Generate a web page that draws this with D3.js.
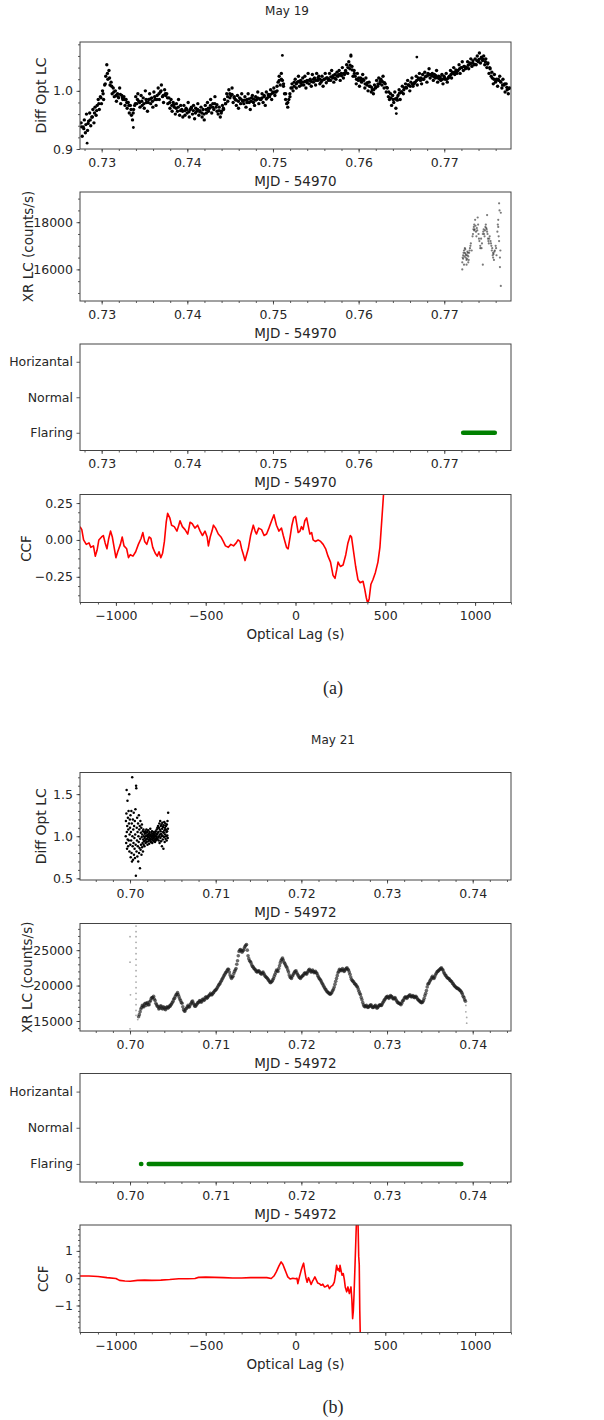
<!DOCTYPE html>
<html><head><meta charset="utf-8">
<script src="https://cdn.jsdelivr.net/npm/d3@7"></script>
<style>body{margin:0;background:#fff}svg{display:block}</style>
</head><body><svg id="c" width="604" height="1420"></svg>
<script>
// ---------------- DATA ----------------
const stateCats = ["Flaring","Normal","Horizantal"];
const mjdTicks19 = [0.73,0.74,0.75,0.76,0.77];
const mjdTicks21 = [0.70,0.71,0.72,0.73,0.74];
const lagTicks = [-1000,-500,0,500,1000];
const optTicks19 = [0.9,1.0];
const xrTicks19 = [16000,18000];
const ccfTicks19 = [-0.25,0,0.25];
const optTicks21 = [0.5,1.0,1.5];
const xrTicks21 = [15000,20000,25000];
const ccfTicks21 = [-1,0,1];

// May 19 differential optical light curve, set A (uniform sampling 0.7276 -> 0.7776)
const opt19Start = 0.7276, opt19End = 0.7776;
const opt19 = [
0.945,0.922,0.938,0.950,0.928,0.960,0.932,0.948, 0.962,0.940,0.955,0.968,0.945,0.972,0.958,0.975,
0.985,0.968,0.990,0.978,1.000,0.985,1.010,1.025, 1.045,1.020,1.035,1.010,1.015,0.995,1.005,0.990,
1.000,0.982,0.995,0.988,1.005,0.978,0.992,0.985, 0.990,0.975,0.985,0.970,0.980,0.962,0.975,0.958,
0.950,0.968,0.975,0.990,0.978,0.995,0.982,0.972, 0.992,0.975,0.988,0.970,1.000,0.980,0.965,0.985,
0.995,0.978,0.988,0.972,0.998,0.985,0.975,0.992, 1.005,0.985,0.998,1.010,0.990,0.980,1.002,0.992,
0.995,0.978,0.988,0.970,0.985,0.965,0.980,0.972, 0.960,0.978,0.965,0.985,0.958,0.975,0.968,0.955,
0.975,0.958,0.970,0.962,0.980,0.955,0.968,0.972, 0.960,0.975,0.952,0.970,0.965,0.978,0.958,0.966,
0.972,0.955,0.968,0.950,0.975,0.962,0.980,0.965, 0.970,0.985,0.962,0.978,0.968,0.990,0.972,0.965,
0.960,0.972,0.955,0.965,0.975,0.968,0.985,0.978, 0.995,0.982,1.002,0.988,0.992,1.005,0.980,0.990,
0.985,0.975,0.992,0.970,0.988,0.978,0.995,0.982, 0.978,0.990,0.972,0.985,0.995,0.980,0.968,0.988,
0.992,0.980,0.975,0.990,0.985,0.998,0.978,0.986, 0.985,0.995,0.980,0.992,0.975,0.998,0.988,0.994,
0.990,1.002,0.985,0.998,1.005,0.992,0.998,1.008, 1.015,1.025,1.010,1.030,1.018,1.008,0.995,0.985,
0.978,0.972,0.985,0.995,1.005,1.012,1.000,1.015, 1.020,1.005,1.015,1.025,1.008,1.018,1.010,1.022,
1.010,1.025,1.005,1.018,1.030,1.012,1.020,1.008, 1.028,1.015,1.022,1.010,1.030,1.018,1.025,1.012,
1.015,1.025,1.008,1.020,1.030,1.014,1.022,1.018, 1.030,1.018,1.035,1.022,1.015,1.028,1.020,1.032,
1.025,1.035,1.018,1.030,1.040,1.022,1.028,1.035, 1.045,1.030,1.050,1.038,1.060,1.042,1.025,1.035,
1.025,1.012,1.030,1.018,1.008,1.022,1.015,1.028, 1.018,1.005,1.022,1.010,1.000,1.015,1.008,0.998,
1.002,0.995,1.010,1.005,1.018,1.008,1.022,1.012, 1.020,1.010,1.025,1.005,1.012,0.998,1.005,0.990,
0.985,0.995,0.975,0.992,0.980,0.998,0.970,0.988, 0.992,1.002,0.985,0.998,1.008,0.995,1.005,1.012,
1.005,1.018,1.010,1.000,1.015,1.022,1.008,1.012, 1.015,1.025,1.010,1.022,1.030,1.018,1.012,1.028,
1.020,1.032,1.025,1.015,1.030,1.038,1.022,1.028, 1.030,1.018,1.028,1.022,1.035,1.015,1.025,1.020,
1.018,1.028,1.012,1.025,1.020,1.030,1.015,1.022, 1.025,1.035,1.022,1.032,1.040,1.028,1.036,1.030,
1.035,1.045,1.030,1.040,1.050,1.035,1.042,1.038, 1.040,1.050,1.038,1.048,1.055,1.042,1.052,1.045,
1.055,1.045,1.060,1.050,1.065,1.048,1.058,1.052, 1.060,1.045,1.055,1.040,1.048,1.030,1.038,1.025,
1.022,1.012,1.028,1.015,1.020,1.008,1.018,1.025, 1.015,1.005,1.020,1.010,0.998,1.012,1.002,0.995,
1.005];
// set B (core readings, uniform sampling 0.72766 -> 0.77756)
const opt19bStart = 0.72766, opt19bEnd = 0.77756;
const opt19b = [
0.938,0.935,0.942,0.944, 0.950,0.955,0.962,0.966, 0.978,0.988,0.995,1.012, 1.030,1.022,1.008,0.998,
0.992,0.990,0.994,0.988, 0.985,0.980,0.975,0.968, 0.962,0.978,0.985,0.980, 0.982,0.978,0.985,0.980,
0.986,0.982,0.990,0.985, 0.995,1.000,0.992,0.995, 0.988,0.980,0.975,0.976, 0.970,0.972,0.966,0.965,
0.966,0.968,0.964,0.970, 0.966,0.962,0.968,0.964, 0.962,0.960,0.968,0.970, 0.975,0.972,0.978,0.976,
0.966,0.962,0.970,0.978, 0.990,0.995,0.994,0.988, 0.984,0.982,0.986,0.984, 0.984,0.980,0.986,0.982,
0.986,0.984,0.988,0.986, 0.988,0.990,0.986,0.992, 0.994,0.996,0.998,1.000, 1.018,1.020,1.012,0.995,
0.980,0.990,1.005,1.008, 1.012,1.016,1.014,1.015, 1.016,1.014,1.018,1.016, 1.020,1.018,1.022,1.020,
1.018,1.020,1.022,1.020, 1.024,1.026,1.022,1.026, 1.028,1.026,1.030,1.032, 1.040,1.044,1.036,1.030,
1.020,1.022,1.018,1.020, 1.012,1.014,1.008,1.006, 1.002,1.006,1.012,1.016, 1.016,1.014,1.006,0.998,
0.988,0.985,0.986,0.984, 0.996,0.998,1.002,1.006, 1.010,1.008,1.012,1.014, 1.018,1.020,1.022,1.020,
1.024,1.026,1.028,1.026, 1.024,1.026,1.022,1.024, 1.020,1.022,1.020,1.024, 1.028,1.030,1.032,1.034,
1.038,1.040,1.042,1.040, 1.044,1.046,1.048,1.046, 1.052,1.054,1.056,1.054, 1.050,1.046,1.040,1.032,
1.020,1.018,1.020,1.016, 1.010,1.012,1.006,1.004];
const opt19OutT = [0.7337,0.7511,0.7644,0.7591,0.7668,0.7283];
const opt19OutV = [0.937,1.061,0.961,1.062,1.058,0.910];

// May 19 X-ray light curve
const xr19T = [0.7721,0.7721,0.7722,0.7722,0.7723,0.7723,0.7724,0.7724,0.7725,0.7725,
0.7726,0.7726,0.7727,0.7727,0.7728,0.7728,0.7729,0.7730,0.7731,0.7732,
0.7733,0.7734,0.7735,0.7735,0.7736,0.7737,0.7738,0.7739,0.7740,0.7741,
0.7742,0.7742,0.7743,0.7744,0.7745,0.7745,0.7746,0.7747,0.7748,0.7749,
0.7750,0.7750,0.7751,0.7752,0.7753,0.7754,0.7755,0.7756,0.7757,0.7757,
0.7758,0.7759,0.7760,0.7761,0.7762,0.7763,0.7763,0.7764,0.7764,0.7765,
0.7765,0.7766,0.7766,
0.77215,0.77225,0.77235,0.77245,0.77255,0.77265,0.77275,0.77285,0.77295,0.77305,
0.77335,0.77345,0.77355,0.77365,0.77375,0.77385,0.77395,0.77405,
0.77435,0.77455,0.77465,0.77475,0.77485,0.77495,0.77505,0.77515,0.77525,
0.77545,0.77555,0.77565,0.77575,0.77585,
0.77605,0.77625,0.77635,0.77645,0.77655];
const xr19V = [16300,16000,16600,16450,16800,16200,16700,16900,16500,16650,
16400,16200,16600,16750,16550,16300,16700,16900,17100,16800,
17400,17700,17650,17900,18100,17600,17750,18200,17500,17200,
17000,16900,17300,17100,16200,17500,17700,17400,17800,17750,
18300,17600,17300,17100,17400,17200,17000,16900,16500,16700,
16400,16800,17000,16600,17600,18100,17800,18800,17200,16500,
16100,18400,15300,
16500,16700,16550,16850,16600,16450,16700,16400,16800,17000,
17500,17800,17700,17850,17400,17650,17900,17300,
16900,17600,17500,17650,17900,17700,17500,17200,17300,
17100,16800,16600,16650,16750,
16900,17900,17400,18500,16800];

// spectral state segments
const state19Start = [0.7722], state19End = [0.7759], state19Cat = ["Flaring"];
const state21Start = [0.70128,0.70218], state21End = [0.70132,0.73867], state21Cat = ["Flaring","Flaring"];

// May 19 CCF
const lag19 = [-1200,-1190,-1180,-1165,-1150,-1140,-1125,-1115,-1105,-1095,
-1080,-1070,-1060,-1050,-1040,-1030,-1020,-1010,-1000,-990,
-975,-965,-955,-940,-930,-920,-905,-890,-875,-860,
-850,-840,-828,-815,-805,-795,-781,-770,-760,-750,
-740,-730,-720,-712,-700,-690,-675,-660,-650,-643,
-630,-615,-600,-587,-575,-560,-545,-531,-518,-504,
-492,-485,-475,-465,-457,-445,-430,-415,-402,-390,
-374,-360,-345,-330,-320,-309,-300,-290,-281,-270,
-263,-250,-235,-225,-217,-205,-189,-175,-161,-148,
-133,-120,-106,-92,-78,-68,-59,-50,-41,-30,
-20,-10,0,15,25,33,42,52,62,70,
80,90,98,110,126,140,154,168,181,195,
209,220,230,237,250,265,280,292,305,312,
320,335,348,360,376,385,394,402,410,420,
431,445,459,470,478,487,495,505];
const ccf19 = [0.09,0.07,0.0,-0.03,-0.02,-0.05,-0.04,-0.11,-0.07,0.0,
0.02,0.03,-0.02,-0.06,0.01,0.06,0.02,-0.05,-0.12,-0.08,
-0.03,0.02,-0.04,-0.06,-0.12,-0.10,-0.11,-0.08,-0.03,0.01,
0.05,-0.01,-0.03,0.02,0.01,-0.05,-0.09,-0.11,-0.08,-0.12,
-0.09,-0.01,0.12,0.18,0.15,0.10,0.09,0.06,0.10,0.13,
0.09,0.07,0.04,0.12,0.11,0.08,0.10,0.06,0.03,0.06,
0.02,-0.04,0.02,0.06,0.10,0.08,0.04,0.02,-0.01,-0.04,
-0.05,-0.03,-0.04,-0.02,0.0,-0.01,-0.06,-0.10,-0.14,-0.09,
-0.06,0.03,0.10,0.06,0.04,0.08,0.07,0.03,0.04,0.08,
0.13,0.17,0.10,0.06,0.08,0.03,-0.01,-0.05,-0.06,0.02,
0.10,0.15,0.16,0.05,0.06,0.09,0.07,0.13,0.15,0.10,
0.04,0.05,0.0,-0.01,0.0,-0.01,-0.03,-0.06,-0.11,-0.15,
-0.24,-0.26,-0.20,-0.15,-0.18,-0.17,-0.10,-0.02,0.03,0.02,
-0.05,-0.18,-0.27,-0.29,-0.28,-0.33,-0.39,-0.43,-0.40,-0.30,
-0.27,-0.22,-0.15,-0.05,0.09,0.25,0.40,0.60];

// May 21 differential optical light curve (uniform sampling)
const opt21Start = 0.6995, opt21End = 0.70445;
const opt21 = [
1.00,1.18,0.92,1.27,1.55,1.05,0.85,1.12,1.42,0.96,1.22,0.88,1.08,1.30,0.95,1.15,1.50,0.82,1.02,1.20,
1.10,0.90,1.25,0.75,1.05,0.95,1.30,0.80,1.15,0.70,1.70,1.00,0.88,1.20,0.72,1.08,0.92,1.28,0.78,1.12,
0.98,0.85,1.18,0.74,1.02,1.32,0.90,0.53,1.60,1.57,0.82,1.10,0.95,1.22,0.76,1.05,0.88,1.15,0.70,1.00,
0.93,1.25,0.80,1.08,0.86,1.12,0.62,0.97,1.18,0.84,1.04,0.90,1.10,0.78,0.99,1.14,0.87,1.02,0.92,1.06,
0.82,0.96,1.08,0.90,1.00,0.94,1.05,0.88,
0.98,1.03,0.95,1.06,0.92,1.00,1.04,0.96,1.08,0.93,1.01,0.97,1.05,0.90,1.02,0.99,1.07,0.94,1.00,0.96,
1.03,0.91,1.05,0.98,1.01,0.95,1.09,0.97,1.02,0.93,1.00,1.04,0.96,0.99,1.06,0.92,1.01,0.97,1.03,0.95,
1.00,0.98,1.05,0.94,1.02,0.99,0.96,1.04,0.93,1.01,0.97,1.06,0.95,1.00,1.03,0.98,1.08,0.96,1.02,1.10,
0.97,1.04,1.12,0.99,
1.05,0.95,1.10,1.00,1.15,0.92,1.08,1.02,1.18,0.98,1.06,1.12,0.94,1.03,1.14,1.00,0.88,1.09,1.16,1.01,
0.96,1.11,1.05,0.85,1.13,1.04,0.99,1.17,1.07,0.93,1.10,1.02,1.15,0.97,1.08,1.12,1.00,1.05,0.95,1.14,
1.06,1.01,1.18,0.98,1.09,1.28];

// May 21 X-ray light curve, set A (uniform sampling 0.7010 -> 0.73915)
const xr21Start = 0.7010, xr21End = 0.73915;
const xr21 = [
15600,16300,16900,17100,17400,17200,17600,17300,17900,18300,
18500,17900,17300,17000,16800,17100,16700,16900,16600,17000,
16900,17100,17400,17800,18200,18700,19000,18400,17900,17500,
16600,16400,16800,17200,17000,17500,17800,17300,17100,17400,
17600,17900,17700,18100,18000,18400,18300,18600,18900,18700,
19000,19300,19500,19900,20200,20600,21000,21400,21800,22100,
22300,21500,21000,21300,22000,22400,23500,24800,25100,24700,
25000,25500,25800,24200,23500,23200,22700,22400,22200,21900,
22100,21800,21600,21900,21500,21200,21000,20700,20400,20600,
21000,21600,22200,22000,22800,23500,23900,23300,22900,22500,
21900,21200,21000,21500,21900,22100,21600,21200,21000,21300,
21500,21800,21600,22000,22300,21900,22200,21800,22000,21700,
21200,20900,20500,20100,19700,19400,19100,18900,18800,19100,
19500,20200,21000,21800,22300,22100,22400,22000,22300,22500,
22200,21600,20900,20600,20300,20100,19800,19200,18700,18000,
17300,17000,17200,16900,17100,17300,16900,17000,17200,16800,
17100,17300,17200,17600,18000,18300,18500,18200,18600,18400,
18100,18300,17900,17600,17500,17300,17800,18100,18400,18200,
18500,18700,18400,18600,18300,18500,18100,17900,17700,17600,
17900,18600,19300,20200,20500,20900,21300,21000,21500,21900,
22100,22300,22500,22200,21700,21400,21100,21000,20700,20500,
20200,19900,19700,19600,19400,19200,18800,18300,17800];
// set B (uniform sampling 0.7010875 -> 0.7390625)
const xr21bStart = 0.7010875, xr21bEnd = 0.7390625;
const xr21b = [
15900,16700,17200,17000,17500,17500,17300,17700,18200,18300,
18100,17500,17100,16700,17100,16800,17000,16700,16900,16800,
17100,17300,17600,18100,18500,18800,18700,18100,17600,17000,
16400,16700,17000,17000,17300,17700,17500,17100,17300,17600,
17800,17700,18000,17900,18300,18200,18500,18700,18700,18900,
19200,19400,19700,20100,20400,20800,21200,21600,21900,22300,
21900,21200,21200,21700,22200,23000,24200,25000,24900,24900,
25300,25700,25000,23800,23400,22900,22600,22300,22000,22000,
22000,21700,21800,21700,21300,21100,20800,20500,20500,20800,
21300,21900,22100,22400,23200,23700,23600,23100,22700,22200,
21500,21100,21300,21700,22000,21800,21400,21100,21200,21400,
21700,21700,21800,22200,22100,22000,22000,21900,21800,21400,
21000,20700,20300,19900,19500,19200,19000,18800,18900,19300,
19800,20600,21400,22000,22200,22200,22200,22100,22400,22300,
21900,21200,20700,20500,20200,19900,19500,18900,18300,17600,
17100,17100,17000,17000,17200,17100,16900,17100,17000,16900,
17200,17200,17400,17800,18100,18400,18300,18400,18500,18200,
18200,18100,17700,17500,17400,17500,17900,18300,18300,18400,
18600,18500,18500,18400,18400,18300,18000,17800,17600,17700,
18200,18900,19800,20300,20700,21100,21100,21200,21700,22000,
22200,22400,22300,21900,21500,21200,21000,20800,20600,20300,
20000,19800,19600,19500,19300,19000,18500,18000];
const xr21ExtraT = [0.7007,0.7007,0.7007,0.7007,0.7007,0.7007,0.7007,0.7007,0.7007,0.7007,
0.7007,0.7007,0.7007,0.7007,0.7007,0.7007,0.7007,0.7000,0.7000,0.70005,0.7000,0.7009,
0.7392,0.7392,0.7393,0.7393];
const xr21ExtraV = [28400,27600,26900,26100,25300,24500,23700,22900,22100,21300,
20500,19700,18900,18100,17300,16500,15800,26900,23300,18700,13900,15200,
17200,16300,15500,14700];

// May 21 CCF
const lag21 = [-1200,-1150,-1100,-1050,-1000,-980,-950,-920,-880,-840,
-800,-750,-700,-650,-600,-560,-540,-500,-450,-400,
-350,-300,-250,-200,-160,-135,-120,-107,-92,-80,
-70,-61,-52,-43,-30,-15,0,8,13,22,
32,41,45,52,58,65,72,80,87,94,
100,108,115,124,133,143,152,161,170,180,
189,198,207,216,222,229,235,240,245,248,
253,259,266,272,277,285,292,300,309,314,
318,322,326,330,335,340,344,348,352,355,358,362];
const ccf21 = [0.08,0.08,0.06,0.02,-0.01,-0.08,-0.10,-0.11,-0.08,-0.07,
-0.08,-0.07,-0.05,-0.02,-0.02,-0.01,0.03,0.04,0.03,0.02,
0.01,0.01,0.02,0.02,0.02,-0.01,0.08,0.23,0.45,0.60,
0.50,0.35,0.20,0.05,-0.03,0.0,-0.02,0.0,-0.20,0.05,
0.30,0.48,0.55,0.25,0.02,-0.15,0.02,-0.10,-0.23,-0.12,
-0.05,0.05,-0.05,-0.18,-0.20,-0.26,-0.22,-0.32,-0.30,-0.25,
-0.38,-0.30,-0.26,-0.14,0.10,0.47,0.30,0.35,0.25,0.47,
0.30,0.11,0.17,-0.05,-0.32,-0.50,-0.32,-0.56,-0.32,-0.80,
-1.48,-1.20,-0.60,0.20,1.20,2.20,2.40,2.10,0.80,0.50,-1.20,-2.50];

// ---------------- DRAWING ----------------
const L = 80, R = 511;
const svg = d3.select("#c");
svg.append("rect").attr("width",604).attr("height",1420).attr("fill","#fff");
const FONT = "DejaVu Sans";
const TXT = "#262626";
let clipN = 0;

function styleAxis(s){
  s.select(".domain").remove();
  s.selectAll("line").attr("stroke","#333").attr("stroke-width",0.8);
  s.selectAll("text").attr("font-size",12.5).attr("fill",TXT).attr("font-family",FONT);
}
function minors(lo, hi, step){
  const out=[]; const k0=Math.ceil(lo/step-1e-9), k1=Math.floor(hi/step+1e-9);
  for(let k=k0;k<=k1;k++) out.push(+(k*step).toFixed(6));
  return out;
}
function panel(o){
  const x = d3.scaleLinear().domain(o.xd).range([L,R]);
  const y = d3.scaleLinear().domain(o.yd).range([o.b,o.t]);
  const id = "cp"+(clipN++);
  svg.append("clipPath").attr("id",id).append("rect")
    .attr("x",L).attr("y",o.t).attr("width",R-L).attr("height",o.b-o.t);
  const g = svg.append("g").attr("clip-path",`url(#${id})`);
  if(o.xm) svg.append("g").attr("transform",`translate(0,${o.b})`)
    .call(d3.axisBottom(x).tickValues(minors(o.xd[0],o.xd[1],o.xm)).tickFormat("").tickSize(2)).call(styleAxis);
  svg.append("g").attr("transform",`translate(0,${o.b})`)
    .call(d3.axisBottom(x).tickValues(o.xt).tickFormat(o.xf).tickSize(3.5).tickPadding(5.5)).call(styleAxis);
  if(o.ym) svg.append("g").attr("transform",`translate(${L},0)`)
    .call(d3.axisLeft(y).tickValues(minors(o.yd[0],o.yd[1],o.ym)).tickFormat("").tickSize(2)).call(styleAxis);
  svg.append("g").attr("transform",`translate(${L},0)`)
    .call(d3.axisLeft(y).tickValues(o.yt).tickFormat(o.yf).tickSize(3.5).tickPadding(3.5)).call(styleAxis);
  svg.append("text").attr("x",(L+R)/2).attr("y",o.b+32).attr("dy","0.36em")
    .attr("text-anchor","middle").attr("font-size",13.5).attr("font-family",FONT).attr("fill",TXT).text(o.xl);
  if(o.yl) svg.append("text").attr("transform",`translate(${o.ylx},${(o.t+o.b)/2}) rotate(-90)`)
    .attr("dy","0.36em").attr("text-anchor","middle").attr("font-size",o.yls||13.5).attr("font-family",FONT).attr("fill",TXT).text(o.yl);
  return {x,y,g,frame:()=>svg.append("rect").attr("x",L).attr("y",o.t).attr("width",R-L).attr("height",o.b-o.t)
    .attr("fill","none").attr("stroke","#444").attr("stroke-width",1)};
}

const f2 = d3.format(".2f"), f1 = d3.format(".1f"), fd = d3.format("d");
function uniformTimes(n,a,b){ return d3.range(n).map(i=> a + (b-a)*i/(n-1)); }
function dots(p, cls, ts, vs, r, fill, op){
  p.g.selectAll("circle."+cls).data(vs).join("circle").attr("class",cls)
    .attr("cx",(d,i)=>p.x(ts[i])).attr("cy",d=>p.y(d)).attr("r",r).attr("fill",fill).attr("fill-opacity",op);
}

function txt(x,y,s,size,fam){ svg.append("text").attr("x",x).attr("y",y).attr("dy","0.36em").attr("text-anchor","middle")
  .attr("font-size",size).attr("font-family",fam||FONT).attr("fill",TXT).text(s); }
txt(287,11,"May 19",12);
txt(333,688,"(a)",18,"Liberation Serif");
txt(333,740,"May 21",12);
txt(333,1407,"(b)",18,"Liberation Serif");

// ---- Panel 1: May 19 optical
{
  const p = panel({t:42,b:149,xd:[0.72747,0.77779],yd:[0.9,1.084],xt:mjdTicks19,xf:f2,xm:0.002,
    yt:optTicks19,yf:f1,ym:0.02,xl:"MJD - 54970",yl:"Diff Opt LC",ylx:41,yls:14});
  dots(p,"a",uniformTimes(opt19.length,opt19Start,opt19End),opt19,1.7,"#000",1);
  dots(p,"b",uniformTimes(opt19b.length,opt19bStart,opt19bEnd),opt19b,1.7,"#000",1);
  dots(p,"c",opt19OutT,opt19OutV,1.4,"#000",1);
  p.frame();
}
// ---- Panel 2: May 19 X-ray
{
  const p = panel({t:192,b:301,xd:[0.72747,0.77779],yd:[14660,19280],xt:mjdTicks19,xf:f2,xm:0.002,
    yt:xrTicks19,yf:fd,ym:500,xl:"MJD - 54970",yl:"XR LC (counts/s)",ylx:28});
  dots(p,"a",xr19T,xr19V,1.1,"#222",0.6);
  p.frame();
}
// ---- Panel 3: May 19 state
{
  const p = panel({t:344,b:450.5,xd:[0.72747,0.77779],yd:[-0.5,2.5],xt:mjdTicks19,xf:f2,xm:0.002,
    yt:[0,1,2],yf:i=>stateCats[i],ym:null,xl:"MJD - 54970",yl:null});
  p.g.selectAll("line").data(state19Start).join("line").attr("x1",d=>p.x(d)).attr("x2",(d,i)=>p.x(state19End[i]))
    .attr("y1",(d,i)=>p.y(stateCats.indexOf(state19Cat[i]))).attr("y2",(d,i)=>p.y(stateCats.indexOf(state19Cat[i])))
    .attr("stroke","#008000").attr("stroke-width",4.5).attr("stroke-linecap","round");
  p.frame();
}
// ---- Panel 4: May 19 CCF
{
  const p = panel({t:494.5,b:602.5,xd:[-1200,1200],yd:[-0.424,0.308],xt:lagTicks,xf:fd,xm:100,
    yt:ccfTicks19,yf:f2,ym:0.0625,xl:"Optical Lag (s)",yl:"CCF",ylx:26});
  p.g.append("path").datum(lag19).attr("d",d3.line().x(d=>p.x(d)).y((d,i)=>p.y(ccf19[i])))
    .attr("fill","none").attr("stroke","#ff0000").attr("stroke-width",1.6).attr("stroke-linejoin","round");
  p.frame();
}
// ---- Panel 5: May 21 optical
{
  const p = panel({t:772.5,b:880,xd:[0.69416,0.74447],yd:[0.48,1.757],xt:mjdTicks21,xf:f2,xm:0.002,
    yt:optTicks21,yf:f1,ym:0.1,xl:"MJD - 54972",yl:"Diff Opt LC",ylx:41,yls:14});
  dots(p,"a",uniformTimes(opt21.length,opt21Start,opt21End),opt21,1.25,"#000",1);
  p.frame();
}
// ---- Panel 6: May 21 X-ray
{
  const p = panel({t:923.5,b:1031,xd:[0.69416,0.74447],yd:[13590,28760],xt:mjdTicks21,xf:f2,xm:0.002,
    yt:xrTicks21,yf:fd,ym:1000,xl:"MJD - 54972",yl:"XR LC (counts/s)",ylx:27});
  dots(p,"a",uniformTimes(xr21.length,xr21Start,xr21End),xr21,1.8,"#1a1a1a",0.65);
  dots(p,"b",uniformTimes(xr21b.length,xr21bStart,xr21bEnd),xr21b,1.8,"#1a1a1a",0.65);
  dots(p,"e",xr21ExtraT,xr21ExtraV,0.9,"#555",0.5);
  p.frame();
}
// ---- Panel 7: May 21 state
{
  const p = panel({t:1073.5,b:1182,xd:[0.69416,0.74447],yd:[-0.5,2.5],xt:mjdTicks21,xf:f2,xm:0.002,
    yt:[0,1,2],yf:i=>stateCats[i],ym:null,xl:"MJD - 54972",yl:null});
  p.g.selectAll("line").data(state21Start).join("line").attr("x1",d=>p.x(d)).attr("x2",(d,i)=>p.x(state21End[i]))
    .attr("y1",(d,i)=>p.y(stateCats.indexOf(state21Cat[i]))).attr("y2",(d,i)=>p.y(stateCats.indexOf(state21Cat[i])))
    .attr("stroke","#008000").attr("stroke-width",4.5).attr("stroke-linecap","round");
  p.frame();
}
// ---- Panel 8: May 21 CCF
{
  const p = panel({t:1225,b:1332.5,xd:[-1200,1200],yd:[-1.99,1.95],xt:lagTicks,xf:fd,xm:100,
    yt:ccfTicks21,yf:fd,ym:0.2,xl:"Optical Lag (s)",yl:"CCF",ylx:43});
  p.g.append("path").datum(lag21).attr("d",d3.line().x(d=>p.x(d)).y((d,i)=>p.y(ccf21[i])))
    .attr("fill","none").attr("stroke","#ff0000").attr("stroke-width",1.6).attr("stroke-linejoin","round");
  p.frame();
}
</script></body></html>
